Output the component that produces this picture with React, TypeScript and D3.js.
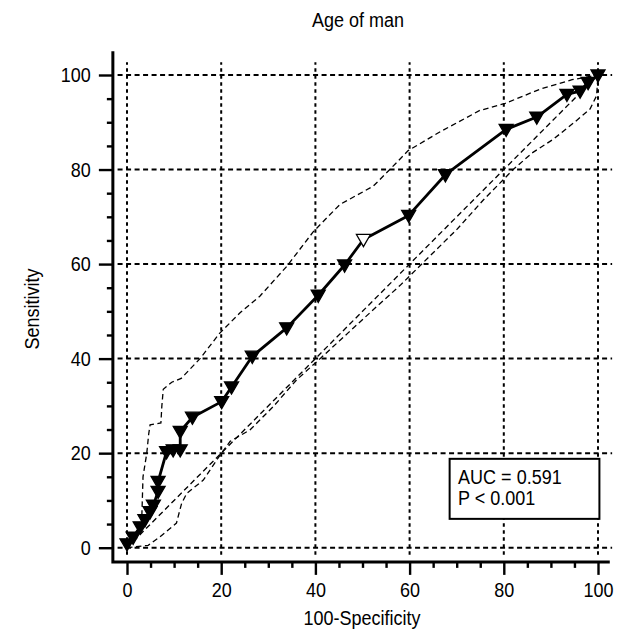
import { useRef, useEffect } from "react";
import * as d3 from "d3";

// ROC curve points (100-Specificity, Sensitivity)
const rocX = [0, 1.3, 2.8, 3.8, 4.9, 5.6, 6.6, 6.6, 8.4, 9.8, 11.3, 11.3, 13.9, 20.1, 22.2, 26.6, 33.9, 40.6, 46.2, 50.2, 59.8, 67.6, 80.5, 87, 93.4, 96.2, 97.9, 100];
const rocY = [0.8, 2.2, 4.4, 5.9, 7.6, 9, 11.9, 14, 20.3, 20.7, 20.7, 24.6, 27.6, 30.9, 34, 40.5, 46.5, 53.4, 59.8, 65.2, 70.3, 78.9, 88.5, 91.1, 95.9, 96.6, 98.4, 100];
// index of the criterion point drawn with an open marker
const OPEN_INDEX = 19;

// 95% confidence bounds
const upX = [0, 1.5, 3.1, 3.4, 4.2, 4.6, 4.9, 7.2, 7.4, 7.7, 9.5, 11.5, 15.5, 19.7, 24, 28.2, 33.9, 39.6, 45.2, 52.3, 55.8, 59.7, 66.5, 74.9, 80.3, 87.7, 94.5, 100];
const upY = [0, 2.5, 5, 15, 20, 24, 26, 26.4, 30, 33.5, 35, 35.8, 40, 45.4, 49.7, 53.2, 59.5, 66.9, 72.6, 76.5, 80, 84, 88, 92.5, 94, 97, 99, 100];
const loX = [0, 4.5, 7, 10.5, 11.6, 12.7, 16.2, 19.7, 21.9, 26.1, 31.1, 36, 41, 47, 53, 58, 64.3, 70, 75.7, 82, 86, 90.5, 95, 98.3, 99.7, 100];
const loY = [0, 0.5, 2.3, 5.2, 9.4, 11.5, 14.3, 19.5, 22.5, 24.9, 29.9, 35.5, 40, 45.5, 51, 55.5, 61.7, 67.3, 73.6, 80, 83.5, 86.4, 90, 92.8, 95.6, 100];
const diagX = [0, 100];
const diagY = [0, 100];

const majorTicks = [0, 20, 40, 60, 80, 100];
const minorTicks = d3.range(0, 101, 5).filter((v) => v % 20 !== 0);

const TITLE = "Age of man";
const X_TITLE = "100-Specificity";
const Y_TITLE = "Sensitivity";
const STATS = ["AUC = 0.591", "P < 0.001"];

const FONT = "'Liberation Sans', Arial, Helvetica, sans-serif";
const STRETCH = 1.12; // source text is a bit taller than Arial

export default function App() {
  const svgRef = useRef<SVGSVGElement>(null);

  useEffect(() => {
    if (!svgRef.current) return;
    const width = 624;
    const height = 633;
    const svg = d3.select(svgRef.current);
    svg.selectAll("*").remove();
    svg.attr("width", width).attr("height", height);

    const x = d3.scaleLinear().domain([0, 100]).range([127, 598]);
    const y = d3.scaleLinear().domain([0, 100]).range([547.7, 75]);

    const axisX = x(-3);
    const axisY = y(-3);

    // stretched text helper, anchored at the baseline
    const label = (tx: number, ty: number, s: string, anchor = "middle", rot = 0) =>
      svg
        .append("text")
        .attr("transform", `translate(${tx},${ty}) rotate(${rot}) scale(1,${STRETCH})`)
        .attr("text-anchor", anchor)
        .style("font-family", FONT)
        .style("font-size", "18px")
        .attr("fill", "#000")
        .text(s);

    // grid
    const grid = svg.append("g").attr("stroke", "#000").attr("stroke-width", 2);
    grid
      .selectAll("line.h")
      .data(majorTicks)
      .join("line")
      .attr("class", "h")
      .attr("x1", x(-2))
      .attr("x2", x(103))
      .attr("y1", (d) => y(d))
      .attr("y2", (d) => y(d))
      .attr("stroke-dasharray", "5,3.5");
    grid
      .selectAll("line.v")
      .data(majorTicks)
      .join("line")
      .attr("class", "v")
      .attr("y1", y(-1.5))
      .attr("y2", y(102.7))
      .attr("x1", (d) => x(d))
      .attr("x2", (d) => x(d))
      .attr("stroke-dasharray", "3.5,3.5");

    const straight = d3
      .line<[number, number]>()
      .x((d) => x(d[0]))
      .y((d) => y(d[1]));

    // confidence bounds + diagonal
    const dashed = [
      d3.zip(upX, upY) as [number, number][],
      d3.zip(loX, loY) as [number, number][],
      d3.zip(diagX, diagY) as [number, number][],
    ];
    svg
      .append("g")
      .selectAll("path")
      .data(dashed)
      .join("path")
      .attr("d", (d) => straight(d))
      .attr("fill", "none")
      .attr("stroke", "#000")
      .attr("stroke-width", 1.3)
      .attr("stroke-dasharray", "5.5,3.5");

    // ROC curve
    const roc = d3.zip(rocX, rocY) as [number, number][];
    svg
      .append("path")
      .attr("d", straight(roc))
      .attr("fill", "none")
      .attr("stroke", "#000")
      .attr("stroke-width", 2.8)
      .attr("stroke-linejoin", "round");

    const tri = d3.symbol().type(d3.symbolTriangle).size(85)();
    svg
      .append("g")
      .selectAll("path")
      .data(roc)
      .join("path")
      .attr("d", tri)
      .attr("transform", (d) => `translate(${x(d[0])},${y(d[1]) - 1}) rotate(180)`)
      .attr("fill", (_, i) => (i === OPEN_INDEX ? "#fff" : "#000"))
      .attr("stroke", "#000")
      .attr("stroke-width", 1.3);

    // axes
    const xAxisG = svg.append("g").attr("transform", `translate(0,${axisY})`);
    xAxisG.call(
      d3.axisBottom(x).tickValues(majorTicks).tickSize(13).tickPadding(9).tickFormat(d3.format("d"))
    );
    xAxisG.call((g) => g.select(".domain").remove());
    const xMinor = svg.append("g").attr("transform", `translate(0,${axisY})`);
    xMinor.call(d3.axisBottom(x).tickValues(minorTicks).tickSize(6).tickFormat(() => ""));
    xMinor.call((g) => g.select(".domain").remove());

    const yAxisG = svg.append("g").attr("transform", `translate(${axisX},0)`);
    yAxisG.call(
      d3.axisLeft(y).tickValues(majorTicks).tickSize(14).tickPadding(8).tickFormat(d3.format("d"))
    );
    yAxisG.call((g) => g.select(".domain").remove());
    const yMinor = svg.append("g").attr("transform", `translate(${axisX},0)`);
    yMinor.call(d3.axisLeft(y).tickValues(minorTicks).tickSize(6).tickFormat(() => ""));
    yMinor.call((g) => g.select(".domain").remove());

    svg.selectAll(".tick line").attr("stroke", "#000").attr("stroke-width", 2.4);
    xAxisG
      .selectAll(".tick text")
      .attr("transform", `translate(0,28) scale(1,${STRETCH}) translate(0,-28)`);
    yAxisG.selectAll(".tick text").attr("transform", `scale(1,${STRETCH})`);
    svg
      .selectAll(".tick text")
      .attr("fill", "#000")
      .style("font-family", FONT)
      .style("font-size", "18px");

    // axis lines
    svg
      .append("path")
      .attr("d", `M${axisX},${y(105)}V${axisY}H${x(102.5)}`)
      .attr("fill", "none")
      .attr("stroke", "#000")
      .attr("stroke-width", 3);

    // titles
    label(358, 27, TITLE);
    label(362, 625, X_TITLE);
    label(39, 309, Y_TITLE, "middle", -90);

    // stats box
    svg
      .append("rect")
      .attr("x", x(68.5))
      .attr("y", y(18.8))
      .attr("width", x(100.3) - x(68.5))
      .attr("height", y(6.1) - y(18.8))
      .attr("fill", "#fff")
      .attr("stroke", "#000")
      .attr("stroke-width", 2);
    STATS.forEach((s, i) => label(x(70.3), y(13.5) + i * 21, s, "start"));
  }, []);

  return (
    <svg
      ref={svgRef}
      style={{ position: "absolute", left: 0, top: 0, background: "#fff", display: "block" }}
    />
  );
}
